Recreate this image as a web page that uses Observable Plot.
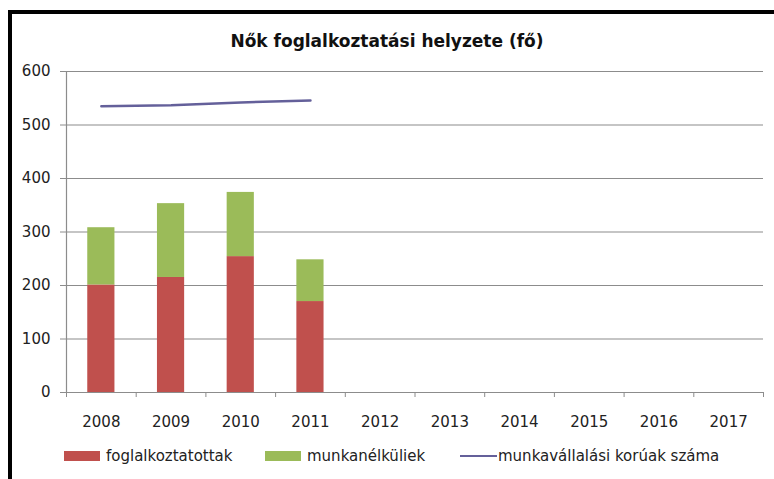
<!DOCTYPE html>
<html>
<head>
<meta charset="utf-8">
<script src="https://cdn.jsdelivr.net/npm/d3@7"></script>
<script src="https://cdn.jsdelivr.net/npm/@observablehq/plot@0.6"></script>
<style>
  html, body { margin: 0; padding: 0; background: #fff; }
  #wrap { position: relative; width: 774px; height: 479px; overflow: hidden; font-family: "DejaVu Sans", sans-serif; color: #222; }
  #frame { position: absolute; left: 8px; top: 10px; right: -10px; bottom: -10px; border-top: 4px solid #000; border-left: 4px solid #000; }
  #title { position: absolute; left: 0; width: 774px; top: 31px; text-align: center; font-weight: bold; font-size: 17px; color: #111; }
  #chart { position: absolute; left: 0; top: 0; }
  .leg { position: absolute; top: 447px; font-size: 15px; display: flex; align-items: center; white-space: nowrap; color: #222; }
  .sw { width: 36px; height: 10px; margin-right: 6px; }
  .ln { width: 37px; height: 2.5px; margin-right: 1px; }
</style>
</head>
<body>
<div id="wrap">
  <div id="chart"></div>
  <div id="frame"></div>
  <div id="title"></div>
  <div id="legend"></div>
</div>
<script>
const title = "Nők foglalkoztatási helyzete (fő)";
const years = [2008, 2009, 2010, 2011, 2012, 2013, 2014, 2015, 2016, 2017];
const dataYears = [2008, 2009, 2010, 2011];
const employed = [201, 215, 254, 170];      // foglalkoztatottak
const unemployed = [107, 138, 120, 78];     // munkanélküliek
const workingAge = [535, 537, 542, 546];    // munkavállalási korúak száma
const yTicks = [0, 100, 200, 300, 400, 500, 600];
const seriesNames = ["foglalkoztatottak", "munkanélküliek", "munkavállalási korúak száma"];
const colors = ["#C0504D", "#9BBB59", "#64609A"];

document.getElementById("title").textContent = title;

const barRows = [];
dataYears.forEach((yr, i) => {
  barRows.push({year: yr, series: seriesNames[0], value: employed[i]});
  barRows.push({year: yr, series: seriesNames[1], value: unemployed[i]});
});
const lineRows = dataYears.map((yr, i) => ({year: yr, value: workingAge[i]}));
const half = 0.195;
const boundaries = [years[0] - 0.5, ...years.map(y => y + 0.5)];

const chart = Plot.plot({
  width: 774,
  height: 479,
  marginTop: 71,
  marginBottom: 87,
  marginLeft: 66,
  marginRight: 11,
  style: {fontFamily: "DejaVu Sans, sans-serif", fontSize: "15px", background: "transparent"},
  x: {type: "linear", domain: [years[0] - 0.5, years[years.length - 1] + 0.5]},
  y: {domain: [0, 600]},
  color: {domain: seriesNames.slice(0, 2), range: colors.slice(0, 2)},
  marks: [
    Plot.ruleY(yTicks.filter(v => v > 0), {stroke: "#8c8c8c", strokeWidth: 1.2}),
    Plot.rectY(barRows, Plot.stackY({
      x1: d => d.year - half,
      x2: d => d.year + half,
      y: "value",
      fill: "series",
      order: seriesNames.slice(0, 2)
    })),
    Plot.line(lineRows, {x: "year", y: "value", stroke: colors[2], strokeWidth: 2.5}),
    Plot.ruleY([0], {stroke: "#8c8c8c", strokeWidth: 1.2}),
    Plot.ruleX([years[0] - 0.5], {stroke: "#8c8c8c", strokeWidth: 1.2}),
    Plot.axisY({ticks: yTicks, tickSize: 6, tickPadding: 10, stroke: "#8c8c8c", fill: "#222", label: null, fontSize: 15}),
    Plot.axisX({ticks: boundaries, tickSize: 5, tickFormat: () => "", stroke: "#8c8c8c", label: null}),
    Plot.axisX({ticks: years, tickSize: 0, tickPadding: 24, tickFormat: d => String(d), fill: "#222", label: null, fontSize: 15})
  ]
});
document.getElementById("chart").appendChild(chart);

const legendPos = [64, 265, 460];
const legend = document.getElementById("legend");
seriesNames.forEach((name, i) => {
  const item = document.createElement("div");
  item.className = "leg";
  item.style.left = legendPos[i] + "px";
  const sw = document.createElement("span");
  sw.className = i < 2 ? "sw" : "ln";
  sw.style.background = colors[i];
  const tx = document.createElement("span");
  tx.textContent = name;
  item.appendChild(sw);
  item.appendChild(tx);
  legend.appendChild(item);
});
</script>
</body>
</html>
